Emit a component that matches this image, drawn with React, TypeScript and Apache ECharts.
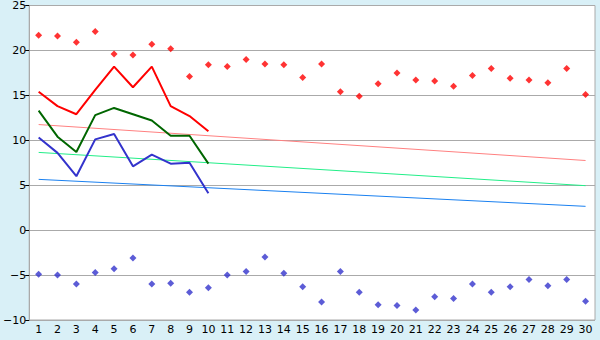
import React, { useEffect, useRef } from "react";
import * as echarts from "echarts";

const days = Array.from({ length: 30 }, (_, i) => String(i + 1));

const recordMax = [21.7, 21.6, 20.9, 22.1, 19.6, 19.5, 20.7, 20.2, 17.1, 18.4, 18.2, 19.0, 18.5, 18.4, 17.0, 18.5, 15.4, 14.9, 16.3, 17.5, 16.7, 16.6, 16.0, 17.2, 18.0, 16.9, 16.7, 16.4, 18.0, 15.1];
const recordMin = [-4.9, -5.0, -6.0, -4.7, -4.3, -3.1, -6.0, -5.9, -6.9, -6.4, -5.0, -4.6, -3.0, -4.8, -6.3, -8.0, -4.6, -6.9, -8.3, -8.4, -8.9, -7.4, -7.6, -6.0, -6.9, -6.3, -5.5, -6.2, -5.5, -7.9];

const dailyMax = [15.4, 13.8, 12.9, 15.6, 18.2, 15.9, 18.2, 13.8, 12.7, 11.0];
const dailyAvg = [13.3, 10.4, 8.7, 12.8, 13.6, 12.9, 12.2, 10.5, 10.5, 7.4];
const dailyMin = [10.3, 8.6, 6.0, 10.1, 10.7, 7.1, 8.4, 7.4, 7.5, 4.1];

// normal (trend) lines: value on the first and on the last day
const normalMax = [11.75, 7.75];
const normalAvg = [8.65, 4.95];
const normalMin = [5.65, 2.65];

const yTicks = { min: -10, max: 25, interval: 5 };

export default function App() {
  const ref = useRef<HTMLDivElement>(null);
  useEffect(() => {
    const chart = echarts.init(ref.current!, null, { renderer: "svg" });
    const ends = (v: number[]) => [[0, v[0]], [days.length - 1, v[1]]];
    chart.setOption({
      animation: false,
      backgroundColor: "#d9f0f7",
      grid: {
        left: 26,
        right: 5,
        top: 5,
        bottom: 20,
        show: true,
        backgroundColor: "#ffffff",
        borderColor: "#aaaaaa",
        borderWidth: 1,
      },
      xAxis: {
        type: "category",
        data: days,
        boundaryGap: true,
        axisLine: { lineStyle: { color: "#aaaaaa" } },
        axisTick: { alignWithLabel: true, length: 5, lineStyle: { color: "#000" } },
        axisLabel: { color: "#000", fontFamily: "DejaVu Sans", fontSize: 11, margin: 4, interval: 0 },
      },
      yAxis: {
        type: "value",
        min: yTicks.min,
        max: yTicks.max,
        interval: yTicks.interval,
        axisLine: { show: true, lineStyle: { color: "#aaaaaa" } },
        axisTick: { show: true, length: 4, lineStyle: { color: "#000" } },
        axisLabel: {
          color: "#000",
          fontFamily: "DejaVu Sans",
          fontSize: 11,
          margin: 3,
          formatter: (v: number) => String(v).replace("-", "\u2212"),
        },
        splitLine: { lineStyle: { color: "#aaaaaa" } },
      },
      series: [
        { type: "line", data: ends(normalMax), symbol: "none", lineStyle: { color: "#ff8080", width: 1 }, silent: true },
        { type: "line", data: ends(normalAvg), symbol: "none", lineStyle: { color: "#22ee88", width: 1 }, silent: true },
        { type: "line", data: ends(normalMin), symbol: "none", lineStyle: { color: "#1a80f0", width: 1 }, silent: true },
        { type: "line", data: dailyMax, symbol: "none", lineStyle: { color: "#ff0000", width: 2 } },
        { type: "line", data: dailyAvg, symbol: "none", lineStyle: { color: "#006600", width: 2 } },
        { type: "line", data: dailyMin, symbol: "none", lineStyle: { color: "#3333cc", width: 2 } },
        { type: "scatter", data: recordMax, symbol: "diamond", symbolSize: 7, itemStyle: { color: "#ff0000" } },
        { type: "scatter", data: recordMin, symbol: "diamond", symbolSize: 7, itemStyle: { color: "#3333cc" } },
      ],
    });
    return () => chart.dispose();
  }, []);
  return <div ref={ref} style={{ position: "fixed", left: 0, top: 0, width: 600, height: 340 }} />;
}
